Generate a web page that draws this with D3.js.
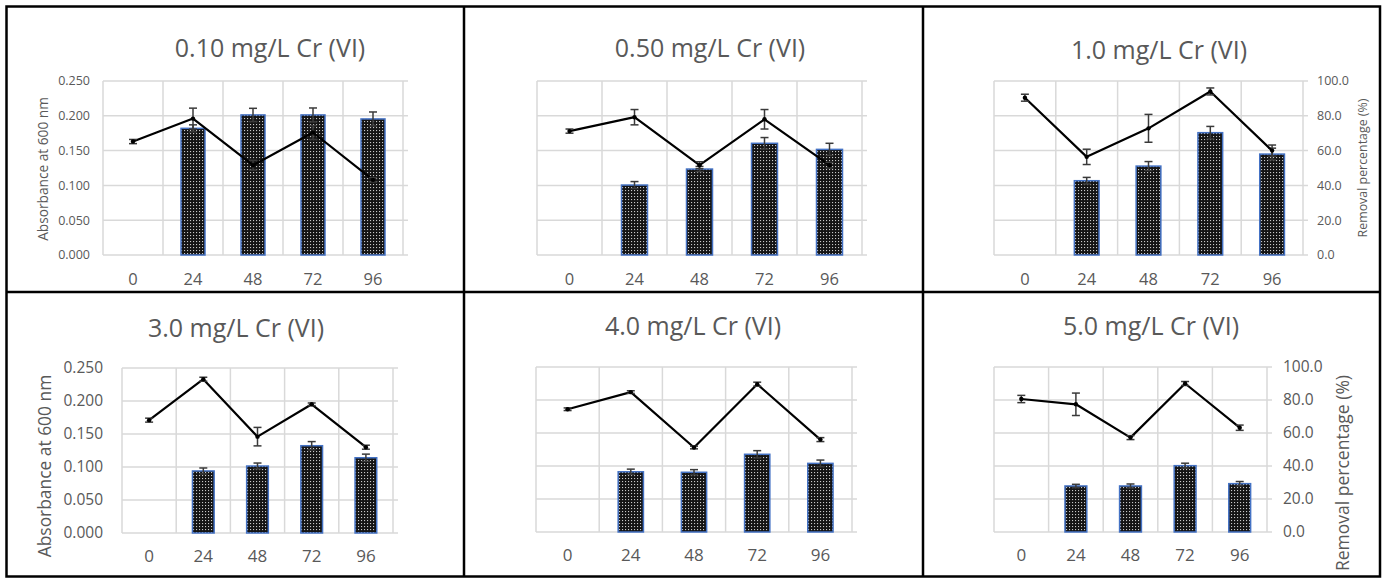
<!DOCTYPE html>
<html>
<head>
<meta charset="utf-8">
<script src="https://cdn.jsdelivr.net/npm/d3@7"></script>
<style>
  html, body { margin: 0; padding: 0; background: #ffffff; }
  svg { display: block; font-family: "Open Sans", "Noto Sans", sans-serif; }
</style>
</head>
<body>
<svg id="chart" width="1383" height="578"></svg>
<script>
// Sampling times (h)
const hours = ["0", "24", "48", "72", "96"];

// Panel titles (initial Cr(VI) concentration)
const titles = ["0.10 mg/L Cr (VI)", "0.50 mg/L Cr (VI)", "1.0 mg/L Cr (VI)",
                "3.0 mg/L Cr (VI)", "4.0 mg/L Cr (VI)", "5.0 mg/L Cr (VI)"];

// Axis ticks
const absorbanceTicks = [0, 0.05, 0.10, 0.15, 0.20, 0.25];
const removalTicks = [0, 20, 40, 60, 80, 100];

// Absorbance at 600 nm (line, left axis) with standard deviations
const abs010 = [0.163, 0.196, 0.129, 0.176, 0.108];
const abs010Err = [0.003, 0.015, 0.007, 0.010, 0.003];
const abs050 = [0.178, 0.198, 0.129, 0.195, 0.129];
const abs050Err = [0.003, 0.011, 0.005, 0.014, 0.004];
const abs100 = [0.226, 0.141, 0.182, 0.235, 0.150];
const abs100Err = [0.005, 0.011, 0.020, 0.005, 0.008];
const abs300 = [0.171, 0.233, 0.146, 0.195, 0.130];
const abs300Err = [0.003, 0.003, 0.014, 0.002, 0.003];
const abs400 = [0.186, 0.212, 0.128, 0.224, 0.140];
const abs400Err = [0.002, 0.002, 0.002, 0.003, 0.003];
const abs500 = [0.2015, 0.1935, 0.143, 0.225, 0.158];
const abs500Err = [0.0055, 0.017, 0.003, 0.003, 0.004];

// Cr(VI) removal percentage (bars, right axis) with standard deviations
const rem010 = [null, 72.8, 80.5, 80.5, 78.2];
const rem010Err = [null, 2.0, 3.8, 4.0, 4.0];
const rem050 = [null, 40.2, 49.4, 64.2, 60.7];
const rem050Err = [null, 2.0, 1.5, 3.3, 3.5];
const rem100 = [null, 42.7, 51.1, 70.3, 58.0];
const rem100Err = [null, 1.9, 2.6, 3.6, 3.4];
const rem300 = [null, 37.6, 40.6, 52.9, 45.6];
const rem300Err = [null, 1.8, 1.8, 2.5, 2.2];
const rem400 = [null, 36.5, 36.2, 47.1, 41.6];
const rem400Err = [null, 1.6, 1.6, 2.2, 2.0];
const rem500 = [null, 27.9, 27.9, 40.2, 29.3];
const rem500Err = [null, 1.0, 1.2, 1.5, 1.3];

const leftTitle = "Absorbance at 600 nm";
const rightTitle = "Removal percentage (%)";

const series = [
  { abs: abs010, absErr: abs010Err, rem: rem010, remErr: rem010Err },
  { abs: abs050, absErr: abs050Err, rem: rem050, remErr: rem050Err },
  { abs: abs100, absErr: abs100Err, rem: rem100, remErr: rem100Err },
  { abs: abs300, absErr: abs300Err, rem: rem300, remErr: rem300Err },
  { abs: abs400, absErr: abs400Err, rem: rem400, remErr: rem400Err },
  { abs: abs500, absErr: abs500Err, rem: rem500, remErr: rem500Err }
];

// Panel geometry and text sizes
const layout = [
  { x0: 103, x1: 403, y0: 255, y1: 81, titleX: 270, titleY: 57, xLabY: 285, xLabSize: 16.5,
    left: { x: 90, size: 12.5, titleX: 43, titleY: 169, titleSize: 13.7 } },
  { x0: 537, x1: 862, y0: 255, y1: 81, titleX: 710, titleY: 57, xLabY: 285, xLabSize: 16.5 },
  { x0: 994, x1: 1303, y0: 255, y1: 81, titleX: 1159, titleY: 59, xLabY: 285, xLabSize: 16.5,
    right: { x: 1317, size: 12.5, titleX: 1363, titleY: 168, titleSize: 12.4 } },
  { x0: 122, x1: 393, y0: 533, y1: 368, titleX: 236, titleY: 337, xLabY: 562, xLabSize: 17,
    left: { x: 103, size: 15.5, titleX: 45, titleY: 466, titleSize: 17.4 } },
  { x0: 536, x1: 852, y0: 532, y1: 367, titleX: 693, titleY: 335, xLabY: 561, xLabSize: 17 },
  { x0: 994, x1: 1267, y0: 532, y1: 367, titleX: 1151, titleY: 335, xLabY: 561, xLabSize: 17,
    right: { x: 1283, size: 15.5, titleX: 1343, titleY: 473, titleSize: 17.5 } }
];

const textColor = "#595959";
const gridColor = "#d9d9d9";
const barOutline = "#4472c4";
const errColor = "#3a3a3a";

const svg = d3.select("#chart");

// Dotted fill used by the removal bars
const defs = svg.append("defs");
const pat = defs.append("pattern")
  .attr("id", "dots").attr("patternUnits", "userSpaceOnUse")
  .attr("width", 3).attr("height", 3);
pat.append("rect").attr("width", 3).attr("height", 3).attr("fill", "#141414");
pat.append("rect").attr("x", 1).attr("y", 1).attr("width", 1.1).attr("height", 1.1).attr("fill", "#c8c8c8");

series.forEach((s, i) => {
  const L = layout[i];
  const g = svg.append("g");

  const x = d3.scaleBand().domain(hours).range([L.x0, L.x1]).padding(0);
  const yAbs = d3.scaleLinear().domain([0, 0.25]).range([L.y0, L.y1]);
  const yRem = d3.scaleLinear().domain([0, 100]).range([L.y0, L.y1]);

  // horizontal gridlines, extended as tick marks past the right axis
  g.selectAll(".hgrid").data(absorbanceTicks).join("line")
    .attr("x1", L.x0).attr("x2", L.x1 + 5)
    .attr("y1", d => yAbs(d)).attr("y2", d => yAbs(d))
    .attr("stroke", gridColor).attr("stroke-width", 1.5);

  // vertical gridlines at category boundaries
  const bounds = hours.map(h => x(h)).concat([L.x1]);
  g.selectAll(".vgrid").data(bounds).join("line")
    .attr("x1", d => d).attr("x2", d => d)
    .attr("y1", L.y1).attr("y2", L.y0)
    .attr("stroke", gridColor).attr("stroke-width", 1.5);

  // removal bars
  const bw = x.bandwidth() * 0.4;
  const barData = hours.map((h, k) => ({ h, v: s.rem[k], e: s.remErr[k] })).filter(d => d.v != null);
  g.selectAll(".bar").data(barData).join("rect")
    .attr("x", d => x(d.h) + x.bandwidth() / 2 - bw / 2)
    .attr("y", d => yRem(d.v))
    .attr("width", bw)
    .attr("height", d => yRem(0) - yRem(d.v))
    .attr("fill", "url(#dots)")
    .attr("stroke", barOutline).attr("stroke-width", 1.5);

  const cap = 4;
  const drawErr = (sel, data, yS, color, w) => {
    const eg = sel.selectAll(null).data(data).join("g");
    eg.append("line")
      .attr("x1", d => d.cx).attr("x2", d => d.cx)
      .attr("y1", d => yS(d.v - d.e)).attr("y2", d => yS(d.v + d.e))
      .attr("stroke", color).attr("stroke-width", w);
    eg.append("line")
      .attr("x1", d => d.cx - cap).attr("x2", d => d.cx + cap)
      .attr("y1", d => yS(d.v + d.e)).attr("y2", d => yS(d.v + d.e))
      .attr("stroke", color).attr("stroke-width", w);
    eg.append("line")
      .attr("x1", d => d.cx - cap).attr("x2", d => d.cx + cap)
      .attr("y1", d => yS(d.v - d.e)).attr("y2", d => yS(d.v - d.e))
      .attr("stroke", color).attr("stroke-width", w);
  };

  drawErr(g, barData.map(d => ({ cx: x(d.h) + x.bandwidth() / 2, v: d.v, e: d.e })), yRem, errColor, 1.5);

  // absorbance line
  const pts = hours.map((h, k) => ({ cx: x(h) + x.bandwidth() / 2, v: s.abs[k], e: s.absErr[k] }));
  g.append("path")
    .datum(pts)
    .attr("d", d3.line().x(d => d.cx).y(d => yAbs(d.v)))
    .attr("fill", "none").attr("stroke", "#000000").attr("stroke-width", 2.2)
    .attr("stroke-linejoin", "round");
  drawErr(g, pts, yAbs, errColor, 1.5);
  g.selectAll(".mk").data(pts).join("circle")
    .attr("cx", d => d.cx).attr("cy", d => yAbs(d.v)).attr("r", 2.2)
    .attr("fill", "#000000");

  // category labels
  g.selectAll(".xl").data(hours).join("text")
    .attr("x", d => x(d) + x.bandwidth() / 2).attr("y", L.xLabY)
    .attr("text-anchor", "middle")
    .attr("font-size", L.xLabSize).attr("fill", textColor)
    .text(d => d);

  // left axis labels and title
  if (L.left) {
    const fmt = d3.format(".3f");
    g.selectAll(".yl").data(absorbanceTicks).join("text")
      .attr("x", L.left.x).attr("y", d => yAbs(d)).attr("dy", "0.35em")
      .attr("text-anchor", "end").attr("font-size", L.left.size).attr("fill", textColor)
      .text(d => fmt(d));
    g.append("text")
      .attr("transform", `translate(${L.left.titleX},${L.left.titleY}) rotate(-90)`)
      .attr("dy", "0.35em").attr("text-anchor", "middle")
      .attr("font-size", L.left.titleSize).attr("fill", textColor)
      .text(leftTitle);
  }

  // right axis labels and title
  if (L.right) {
    const fmt = d3.format(".1f");
    g.selectAll(".yr").data(removalTicks).join("text")
      .attr("x", L.right.x).attr("y", d => yRem(d)).attr("dy", "0.35em")
      .attr("text-anchor", "start").attr("font-size", L.right.size).attr("fill", textColor)
      .text(d => fmt(d));
    g.append("text")
      .attr("transform", `translate(${L.right.titleX},${L.right.titleY}) rotate(-90)`)
      .attr("dy", "0.35em").attr("text-anchor", "middle")
      .attr("font-size", L.right.titleSize).attr("fill", textColor)
      .text(rightTitle);
  }

  // panel title
  g.append("text")
    .attr("x", L.titleX).attr("y", L.titleY)
    .attr("text-anchor", "middle").attr("font-size", 25).attr("fill", textColor)
    .text(titles[i]);
});

// panel frames
const frame = svg.append("g").attr("stroke", "#000000").attr("fill", "none");
frame.append("rect").attr("x", 6.5).attr("y", 6.5).attr("width", 1373.5).attr("height", 570).attr("stroke-width", 2.5);
frame.append("line").attr("x1", 464).attr("x2", 464).attr("y1", 6).attr("y2", 577).attr("stroke-width", 2.5);
frame.append("line").attr("x1", 923).attr("x2", 923).attr("y1", 6).attr("y2", 577).attr("stroke-width", 2.5);
frame.append("line").attr("x1", 6).attr("x2", 1380).attr("y1", 292).attr("y2", 292).attr("stroke-width", 2.5);
</script>
</body>
</html>
